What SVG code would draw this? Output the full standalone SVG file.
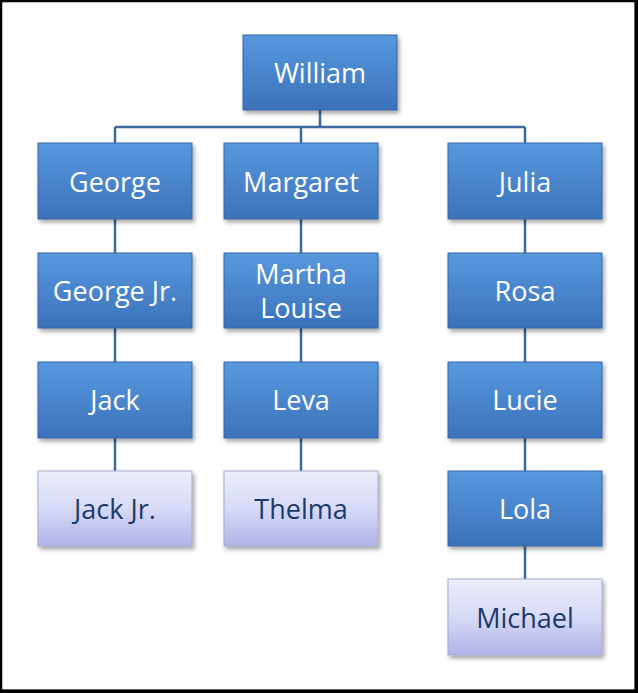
<svg xmlns="http://www.w3.org/2000/svg" width="638" height="693" viewBox="0 0 638 693">
<defs>
<linearGradient id="gBlue" x1="0" y1="0" x2="0" y2="1">
<stop offset="0" stop-color="#5898df"/>
<stop offset="1" stop-color="#3b72ba"/>
</linearGradient>
<linearGradient id="gLight" x1="0" y1="0" x2="0" y2="1">
<stop offset="0" stop-color="#eceffc"/>
<stop offset="0.5" stop-color="#d6daf6"/>
<stop offset="1" stop-color="#b0b3e8"/>
</linearGradient>
<filter id="sh" x="-10%" y="-10%" width="125%" height="130%">
<feDropShadow dx="2" dy="3" stdDeviation="2" flood-color="#000" flood-opacity="0.35"/>
</filter>
</defs>
<style>
.b{fill:url(#gBlue);stroke:#3767a3;stroke-width:1;filter:url(#sh)}
.l{fill:url(#gLight);stroke:#a3acc8;stroke-width:1;filter:url(#sh)}
.t{font-family:"Open Sans","Liberation Sans",sans-serif;font-size:27px;text-anchor:middle;dominant-baseline:central}
.tw{fill:#ffffff}
.td{fill:#1b3a6b}
.c{stroke:#3a6a9e;stroke-width:2.5;fill:none}
</style>
<rect x="1" y="1" width="635" height="690" fill="#ffffff" stroke="none"/>
<path d="M1,1 H636 V691 H1 Z" fill="none" stroke="#000" stroke-width="2.5"/>
<rect x="634.5" y="0" width="3.5" height="693" fill="#000"/>
<rect x="0" y="689.5" width="638" height="3.5" fill="#000"/>
<g id="connectors">
<path class="c" d="M320,110 V127 M115,127 H525 M115,127 V143 M301,127 V143 M525,127 V143"/>
<path class="c" d="M115,219 V253 M115,328 V362 M115,438 V471"/>
<path class="c" d="M301,219 V253 M301,328 V362 M301,438 V471"/>
<path class="c" d="M525,219 V253 M525,328 V362 M525,438 V471 M525,546 V579"/>
</g>
<g id="william"><rect class="b" x="243" y="35" width="154" height="75"/><text class="t tw" x="320" y="72">William</text></g>
<g id="george"><rect class="b" x="38" y="143" width="154" height="76"/><text class="t tw" x="115" y="181">George</text></g>
<g id="margaret"><rect class="b" x="224" y="143" width="154" height="76"/><text class="t tw" x="301" y="181">Margaret</text></g>
<g id="julia"><rect class="b" x="448" y="143" width="154" height="76"/><text class="t tw" x="525" y="181">Julia</text></g>
<g id="georgejr"><rect class="b" x="38" y="253" width="154" height="75"/><text class="t tw" x="115" y="290">George Jr.</text></g>
<g id="martha"><rect class="b" x="224" y="253" width="154" height="75"/><text class="t tw" x="301" y="273">Martha</text><text class="t tw" x="301" y="307">Louise</text></g>
<g id="rosa"><rect class="b" x="448" y="253" width="154" height="75"/><text class="t tw" x="525" y="290">Rosa</text></g>
<g id="jack"><rect class="b" x="38" y="362" width="154" height="76"/><text class="t tw" x="115" y="399">Jack</text></g>
<g id="leva"><rect class="b" x="224" y="362" width="154" height="76"/><text class="t tw" x="301" y="399">Leva</text></g>
<g id="lucie"><rect class="b" x="448" y="362" width="154" height="76"/><text class="t tw" x="525" y="399">Lucie</text></g>
<g id="jackjr"><rect class="l" x="38" y="471" width="154" height="75"/><text class="t td" x="115" y="508">Jack Jr.</text></g>
<g id="thelma"><rect class="l" x="224" y="471" width="154" height="75"/><text class="t td" x="301" y="508">Thelma</text></g>
<g id="lola"><rect class="b" x="448" y="471" width="154" height="75"/><text class="t tw" x="525" y="508">Lola</text></g>
<g id="michael"><rect class="l" x="448" y="579" width="154" height="76"/><text class="t td" x="525" y="617">Michael</text></g>
</svg>
